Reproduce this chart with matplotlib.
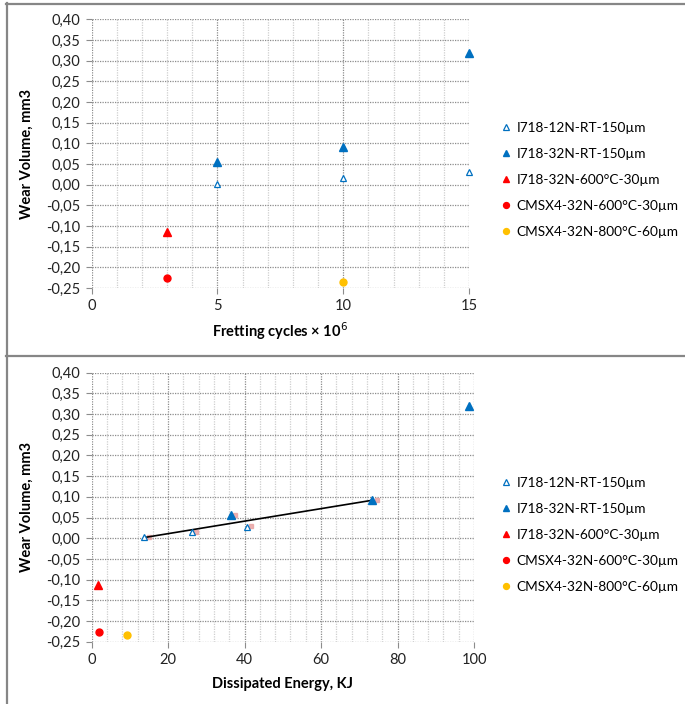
import numpy as np
import matplotlib
matplotlib.use("Agg")
import matplotlib.pyplot as plt
from matplotlib.lines import Line2D
from matplotlib.ticker import MultipleLocator, FuncFormatter

plt.rcParams['font.family'] = ['Lato', 'DejaVu Sans']

# ---------------- data ----------------
labels = ["I718-12N-RT-150µm", "I718-32N-RT-150µm", "I718-32N-600°C-30µm",
          "CMSX4-32N-600°C-30µm", "CMSX4-32N-800°C-60µm"]

# Top panel: fretting cycles (x 10^6)
cyc_12N_RT = [5, 10, 15]
vol_12N_RT = [0.002, 0.015, 0.030]
cyc_32N_RT = [5, 10, 15]
vol_32N_RT = [0.055, 0.091, 0.318]
cyc_32N_600 = [3]
vol_32N_600 = [-0.115]
cyc_cmsx_600 = [3]
vol_cmsx_600 = [-0.226]
cyc_cmsx_800 = [10]
vol_cmsx_800 = [-0.235]

# Bottom panel: dissipated energy (KJ)
en_12N_RT = [13.8, 26.2, 40.5]
ev_12N_RT = [0.002, 0.015, 0.028]
en_32N_RT = [36.4, 73.4, 98.8]
ev_32N_RT = [0.055, 0.092, 0.320]
en_32N_600 = [1.7]
ev_32N_600 = [-0.114]
en_cmsx_600 = [1.9]
ev_cmsx_600 = [-0.226]
en_cmsx_800 = [9.3]
ev_cmsx_800 = [-0.234]

# faint pink marks next to the RT points (bottom panel)
pink_x = [15.0, 27.3, 37.6, 41.6, 74.6]
pink_y = [0.003, 0.016, 0.056, 0.029, 0.093]

BLUE = "#0070C0"
RED = "#FF0000"
ORANGE = "#FFC000"

W, H = 685, 704
fig = plt.figure(figsize=(W / 100, H / 100), dpi=100)

# panel frames
def fline(x0, y0, x1, y1):
    fig.add_artist(Line2D([x0 / W, x1 / W], [1 - y0 / H, 1 - y1 / H],
                          transform=fig.transFigure, color="#868686", lw=1.6))

fline(6, 3.5, 685, 3.5)
fline(6.5, 3, 6.5, 704)
fline(6, 356, 685, 356)

comma = FuncFormatter(lambda v, p: f"{v:.2f}".replace(".", ","))

def style_axes(ax, xmax, xmajor, xminor):
    ax.set_xlim(0, xmax)
    ax.set_ylim(-0.25, 0.40)
    ax.xaxis.set_major_locator(MultipleLocator(xmajor))
    ax.xaxis.set_minor_locator(MultipleLocator(xminor))
    ax.yaxis.set_major_locator(MultipleLocator(0.05))
    ax.yaxis.set_major_formatter(comma)
    for s in ax.spines.values():
        s.set_visible(False)
    ax.grid(True, which="major", axis="both", color="#8c8c8c", linestyle=(0, (1, 1)), lw=0.9)
    ax.grid(True, which="minor", axis="x", color="#cfcfcf", linestyle=(0, (1, 1)), lw=0.9)
    ax.tick_params(axis="both", which="major", length=4, color="#8c8c8c", labelsize=10.5,
                   labelcolor="#222222", pad=4)
    ax.tick_params(axis="x", which="minor", length=0)
    ax.set_axisbelow(True)
    ax.set_ylabel("Wear Volume, mm3", fontsize=10.5, fontweight="bold", labelpad=9)

def plot_series(ax, d):
    kw = dict(linestyle="none", clip_on=False, zorder=3)
    ax.plot(d[0][0], d[0][1], marker="^", ms=5, mfc="white", mec=BLUE, mew=0.9, label=labels[0], **kw)
    ax.plot(d[1][0], d[1][1], marker="^", ms=5.5, color=BLUE, label=labels[1], **kw)
    ax.plot(d[2][0], d[2][1], marker="^", ms=5.5, color=RED, label=labels[2], **kw)
    ax.plot(d[3][0], d[3][1], marker="o", ms=5, color=RED, label=labels[3], **kw)
    ax.plot(d[4][0], d[4][1], marker="o", ms=5, color=ORANGE, label=labels[4], **kw)

# ---------------- top panel ----------------
ax1 = fig.add_axes([91.7 / W, 1 - 288 / H, (469 - 91.7) / W, (288 - 19.3) / H])
style_axes(ax1, 15, 5, 1)
plot_series(ax1, [(cyc_12N_RT, vol_12N_RT), (cyc_32N_RT, vol_32N_RT),
                  (cyc_32N_600, vol_32N_600), (cyc_cmsx_600, vol_cmsx_600),
                  (cyc_cmsx_800, vol_cmsx_800)])
ax1.set_xlabel("Fretting cycles × 10$^6$", fontsize=10.5, fontweight="bold", labelpad=5)

# ---------------- bottom panel ----------------
ax2 = fig.add_axes([91.7 / W, 1 - 641.7 / H, (474 - 91.7) / W, (641.7 - 372.7) / H])
style_axes(ax2, 100, 20, 4)
ax2.plot(pink_x, pink_y, linestyle="none", marker="s", ms=3.5, color="#E8A0A0", alpha=0.8, zorder=2)
plot_series(ax2, [(en_12N_RT, ev_12N_RT), (en_32N_RT, ev_32N_RT),
                  (en_32N_600, ev_32N_600), (en_cmsx_600, ev_cmsx_600),
                  (en_cmsx_800, ev_cmsx_800)])
# linear trendline through RT points (up to 75 KJ)
fit_x = np.array(en_12N_RT + en_32N_RT[:2])
fit_y = np.array(ev_12N_RT + ev_32N_RT[:2])
k, b = np.polyfit(fit_x, fit_y, 1)
xs = np.array([fit_x.min(), fit_x.max()])
ax2.plot(xs, k * xs + b, color="black", lw=1.2, zorder=2)
ax2.set_xlabel("Dissipated Energy, KJ", fontsize=10.5, fontweight="bold", labelpad=7)

# legends
for ax, ytop in [(ax1, 122), (ax2, 477)]:
    h, l = ax.get_legend_handles_labels()
    fig.legend(h, l, loc="upper left", bbox_to_anchor=(502 / W, 1 - ytop / H),
               frameon=False, fontsize=9.8, handlelength=0.6, handletextpad=0.45,
               labelspacing=1.02, markerscale=0.85, borderaxespad=0, borderpad=0)

fig.savefig("out.png", dpi=100)
